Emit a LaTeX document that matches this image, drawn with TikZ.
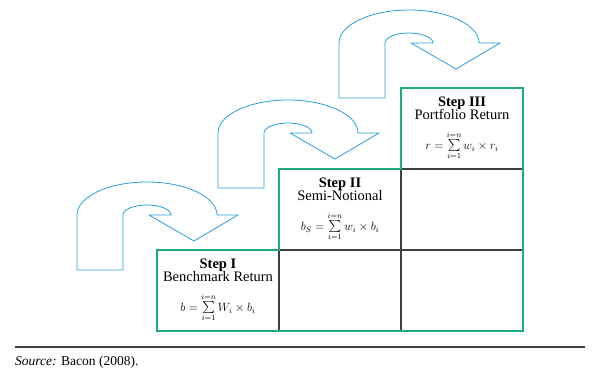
\documentclass[tikz,border=0pt]{standalone}
\usepackage{graphicx}
\usepackage{fontspec}
\setmainfont{Liberation Serif}
\definecolor{stepgreen}{RGB}{30,170,125}
\definecolor{arrowblue}{RGB}{40,160,215}
\definecolor{gridgray}{RGB}{64,64,64}
\newcommand\bigsumop{\mathop{\raisebox{0.1em}[1.05em][0.3em]{\scalebox{1.2}{$\textstyle\sum$}}}\limits}
\tikzset{
  titletext/.style={anchor=base,inner sep=0pt,font=\fontsize{14.5}{16}\selectfont\bfseries},
  subtext/.style={anchor=base,inner sep=0pt,font=\fontsize{14.5}{16}\selectfont},
  formulatext/.style={anchor=base,inner sep=0pt,font=\fontsize{11.5}{13}\selectfont},
  arrowline/.style={draw=arrowblue,line width=0.8pt,line join=round},
  greenline/.style={draw=stepgreen,line width=1.6pt},
  grayline/.style={draw=gridgray,line width=1.1pt},
  uturn/.pic={
    \path[arrowline] (0,55) -- (0,0)
      arc[start angle=180,end angle=360,x radius=70,y radius=33]
      -- (161,0) -- (117,26) -- (72,0) -- (94,0)
      arc[start angle=0,end angle=-180,x radius=24,y radius=10]
      -- (46,55) -- cycle;
  }
}
\begin{document}
\begin{tikzpicture}[x=1pt,y=-1pt]
\useasboundingbox (0,0) rectangle (611,374);
% grid corners
\coordinate (a1) at (157,250);
\coordinate (b1) at (279,250);
\coordinate (b2) at (279,169);
\coordinate (c2) at (401,169);
\coordinate (c3) at (401,88);
\coordinate (d3) at (523,88);
\coordinate (d0) at (523,331);
\coordinate (a0) at (157,331);
\coordinate (b0) at (279,331);
\coordinate (c0) at (401,331);
\coordinate (d1) at (523,250);
\coordinate (d2) at (523,169);
% inner grid
\draw[grayline] (b1) -- (b0);
\draw[grayline] (c2) -- (c0);
\draw[grayline] (c2) -- (d2);
\draw[grayline] (b1) -- (d1);
% staircase outline
\draw[greenline,line join=miter] (a1) -- (b1) -- (b2) -- (c2) -- (c3) -- (d3) -- (d0) -- (a0) -- cycle;
% arrows
\pic at (77,215) {uturn};
\pic at (218,133) {uturn};
\pic at (339,43) {uturn};
% cell texts
\node[titletext] (t1) at (218,269) {Step I};
\node[subtext] (s1) at (218,282) {Benchmark Return};
\node[formulatext] (f1) at (218,312) {$b=\bigsumop_{i=1}^{i=n} W_i\times b_i$};
\node[titletext] (t2) at (340,188) {Step II};
\node[subtext] (s2) at (340,201) {Semi-Notional};
\node[formulatext] (f2) at (340,231) {$b_S=\bigsumop_{i=1}^{i=n} w_i\times b_i$};
\node[titletext] (t3) at (462,107) {Step III};
\node[subtext] (s3) at (462,120) {Portfolio Return};
\node[formulatext] (f3) at (462,150) {$r=\bigsumop_{i=1}^{i=n} w_i\times r_i$};
% source
\coordinate (l0) at (15,347);
\coordinate (l1) at (585,347);
\draw[draw=gridgray,line width=1.3pt] (l0) -- (l1);
\node[anchor=base west,inner sep=0pt,font=\fontsize{13.5}{15}\selectfont] (src) at (15,366) {\textit{Source:} Bacon (2008).};
\end{tikzpicture}
\end{document}
